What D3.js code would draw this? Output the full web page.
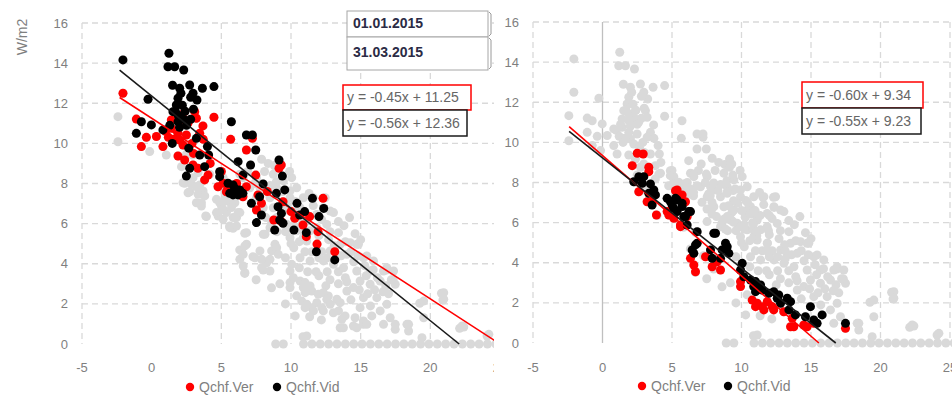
<!DOCTYPE html>
<html><head><meta charset="utf-8">
<script src="https://cdn.jsdelivr.net/npm/d3@7"></script>
<style>
body{margin:0;background:#fff}
svg{display:block}
text{font-family:"Liberation Sans",Arial,sans-serif}
</style>
</head><body>
<svg id="chart" width="952" height="395"></svg>
<script>
// ---------- data ----------
const xTicks = [-5, 0, 5, 10, 15, 20, 25];
const yTicks = [0, 2, 4, 6, 8, 10, 12, 14, 16];
const seriesNames = ["Qchf.Ver", "Qchf.Vid"];
const dateLabels = ["01.01.2015", "31.03.2015"];
const yTitle = "W/m2";

// left panel (01.01 - 31.03)
const leftVer = [[-2.06,12.5],[-1.1,11.21],[-0.38,10.3],[-0.74,9.84],[0.34,10.34],[0.81,9.84],[1.41,11.17],[2.37,11.58],[3.09,11.58],[3.21,11.25],[4.47,11.3],[3.68,10.87],[1.41,10.75],[1.89,10.5],[2.49,10.42],[2.01,10.17],[2.25,9.92],[3.45,10.5],[5.67,10.2],[7.23,10.25],[6.8,9.67],[1.89,9.37],[2.37,9.17],[3.32,8.76],[2.97,8.92],[4.05,8.42],[3.8,8.18],[5.12,8.01],[4.76,7.84],[5.36,7.59],[7.47,8.42],[9.3,8.92],[9.14,8.76],[6.8,7.84],[7.63,7.43],[12.3,7.26],[6.55,7.34],[5.48,7.76],[7.88,7.01],[7.52,6.68],[8.76,6.18],[9.31,6.1],[10.27,6.27],[10.86,5.93],[11.34,6.35],[11.1,5.35],[11.94,5.6],[11.87,4.98],[13.14,4.6],[9.43,7.09],[1.0,10.6],[2.6,11.0],[3.7,10.2],[4.2,9.0],[5.0,8.6],[6.1,8.0],[8.3,7.6],[10.0,6.6],[3.0,9.5],[1.6,10.2],[2.9,10.0],[2.2,11.2],[1.2,10.3]];
const leftVid = [[-2.06,14.16],[1.24,14.49],[1.17,13.82],[1.65,13.82],[2.3,13.66],[2.01,12.75],[2.73,12.91],[3.64,12.75],[4.47,12.83],[2.97,12.5],[3.25,12.16],[-0.26,12.2],[1.89,12.25],[1.77,11.91],[1.53,11.58],[2.13,11.33],[2.37,11.17],[1.89,11.08],[5.72,11.08],[-0.74,11.08],[-0.02,10.92],[0.81,10.67],[-1.1,10.5],[3.21,10.25],[6.8,10.42],[7.23,10.42],[7.47,9.67],[1.48,10.0],[2.66,9.76],[4.0,9.84],[4.09,9.42],[3.45,9.42],[2.73,8.76],[2.49,8.37],[3.8,8.84],[4.88,8.59],[4.88,8.34],[6.2,9.09],[7.1,8.92],[6.55,8.42],[9.14,9.17],[9.38,8.37],[8.0,7.98],[9.55,7.68],[8.95,7.51],[5.48,8.01],[5.96,7.76],[6.2,7.43],[5.6,7.51],[11.54,7.26],[5.84,7.93],[6.32,7.68],[5.84,7.43],[6.55,7.51],[9.07,6.84],[9.31,6.51],[9.19,6.18],[9.43,6.02],[7.75,7.34],[7.16,7.01],[7.88,6.43],[7.52,6.05],[8.83,5.68],[10.43,7.01],[10.98,6.6],[10.62,6.43],[12.35,6.76],[12.01,6.35],[10.21,5.68],[11.1,5.55],[11.82,4.6],[13.14,4.19],[1.7,11.6],[2.2,11.9],[2.5,10.9],[1.3,10.9],[3.0,11.7],[2.8,12.3],[1.5,12.9],[2.1,12.5],[1.9,11.4],[2.4,11.6],[2.0,10.8],[2.8,11.2]];

// right panel
const rightVer = [[2.5,9.46],[2.93,9.42],[2.14,8.84],[3.33,8.76],[2.61,7.54],[3.57,7.04],[3.88,6.38],[5.25,7.59],[5.97,7.04],[4.77,6.38],[5.13,6.22],[5.61,5.88],[6.09,6.3],[3.33,8.54],[3.21,7.04],[4.65,6.55],[5.37,7.63],[5.85,7.04],[5.73,7.38],[5.61,5.8],[6.33,4.22],[6.69,3.55],[6.57,3.89],[7.41,4.3],[7.89,3.8],[8.49,3.64],[8.25,4.05],[9.93,2.81],[9.93,3.06],[10.77,2.14],[11.13,1.98],[11.49,1.81],[11.85,2.06],[12.21,1.81],[11.01,1.81],[11.61,1.65],[12.32,1.65],[13.04,1.56],[13.65,1.23],[13.76,0.81],[14.48,0.9],[15.2,0.98],[17.48,0.73],[13.53,0.81],[14.72,0.81]];
const rightVid = [[2.61,8.29],[2.25,8.04],[2.86,7.96],[3.45,7.93],[3.69,7.63],[3.33,7.46],[3.81,7.38],[3.57,6.88],[4.65,7.21],[5.25,7.21],[5.01,6.88],[5.73,6.96],[6.33,6.55],[5.37,6.55],[5.85,6.3],[6.81,5.55],[8.01,5.47],[6.81,4.97],[8.85,4.97],[2.97,8.29],[4.89,7.04],[5.37,7.13],[5.13,6.71],[5.73,6.8],[6.21,6.55],[5.97,6.3],[6.09,5.88],[8.13,5.47],[6.45,4.64],[6.69,4.89],[6.57,4.47],[7.77,4.64],[7.89,4.22],[8.49,4.22],[8.61,4.64],[8.97,4.8],[9.09,4.47],[10.05,3.97],[9.93,3.64],[10.17,3.3],[10.65,3.14],[11.01,3.06],[10.88,2.81],[11.37,2.89],[11.01,2.56],[11.49,2.64],[11.96,2.48],[12.32,2.56],[12.68,2.39],[12.57,2.23],[12.81,1.98],[13.29,2.23],[13.53,2.06],[13.41,1.65],[13.88,1.4],[14.96,1.81],[14.6,1.31],[15.2,1.15],[15.8,1.4],[15.44,0.98],[17.48,0.98]];

// rest of the year (grey background, shown together with all coloured points)
const yearOther = [[-2.42,11.33],[-2.42,10.08],[-0.14,9.59],[1.05,9.42],[2.37,8.01],[3.21,7.84],[2.73,7.59],[3.45,7.51],[8.36,9.0],[8.95,8.09],[3.93,6.35],[5.6,5.85],[6.68,5.52],[6.32,4.69],[7.27,4.35],[8.23,4.1],[6.68,3.52],[8.0,3.69],[5.84,5.77],[11.34,1.36],[12.18,1.2],[16.85,3.69],[17.33,3.19],[20.8,2.53],[20.9,2.19],[19.24,2.03],[22.1,0.78],[10.86,0.36],
[7.89,9.21],[10.05,8.29],[10.41,7.79],[10.88,7.29],[9.93,7.29],[10.65,6.79],[11.13,6.3],[8.97,7.79],[8.49,7.29],[8.01,6.79],[7.53,7.29],[7.05,7.79],[6.57,8.29],[7.77,7.79],[9.45,6.63],[8.97,6.3],[9.69,5.97],[10.41,5.64],[9.93,5.3],[10.88,5.3],[11.37,5.64],[8.49,5.8],
[4.17,8.46],[5.13,8.29],[6.33,8.46],[7.53,8.29],[8.73,8.46],[9.45,8.13],[8.01,7.63],[8.97,7.46],[9.93,7.63],[6.33,7.63],[11.61,7.29],[12.45,7.29],[12.33,6.79],[13.05,6.55],[11.85,6.46],[11.13,6.13],[10.41,6.63],[9.69,6.96],[8.73,6.79],[9.21,6.13],[9.93,5.8],[10.89,5.63],[11.85,5.8],[12.57,5.96],[13.41,5.55],[13.53,4.97],[14.25,5.05],[14.72,4.97],[14.01,4.47],[12.81,4.64],[11.85,4.97],[11.13,5.13],[10.65,4.3],[11.37,4.14],[12.33,4.14],[13.05,3.97],[13.77,3.8],[14.72,3.64],[15.2,4.3],[15.92,4.14],[15.68,3.64],[16.64,3.64],[16.4,3.14],[15.68,2.98],[14.96,3.14],[14.48,2.81],[14.01,2.64],[15.2,2.31],[16.16,2.31],[16.88,1.98],[16.4,1.65],[17.12,1.31],[16.64,0.98],[18.44,0.98],[18.44,0.65],[19.52,2.14],[19.52,1.31],[20.96,2.56],[20.96,2.23],[22.4,0.85],[24.07,0.4],[11.13,0.4],
[12.81,6.63],[14.84,4.97],[15.44,4.39],[16.88,3.8],[17.36,3.64],[17.48,2.98],[18.32,0.98],[19.4,0.31],[22.28,0.9],[24.2,0.48],
[12.0,3.4],[12.8,3.2],[13.4,3.0],[12.5,2.9],[13.9,3.3],[14.5,4.1],[13.3,4.4],[12.0,5.4],[10.2,4.8],[9.6,4.3],[10.0,5.0],[12.7,5.2],[14.3,2.2],[15.7,1.9],[16.0,2.7],[17.0,2.5],[10.4,2.4],[9.6,2.0],[10.3,1.4],[9.2,3.0],[8.6,2.8],[7.5,3.2],[13.8,5.9],[14.2,6.3],
[8.2,6.3],[8.6,6.0],[9.0,5.6],[9.6,5.6],[10.2,5.9],[10.6,5.1],[11.5,4.6],[11.0,4.6],[12.2,4.6],[12.6,4.3],[13.1,4.9],[13.6,4.4],[14.3,4.6],[14.8,4.4],[15.3,3.9],[15.9,3.7],[16.2,3.3],[15.4,3.4],[14.9,2.7],[15.5,2.5],[16.8,2.9],[17.2,3.2],[16.6,2.6],[14.0,3.1],[13.4,3.6],[12.6,3.6],[11.8,3.6],[11.2,3.6],[10.6,3.8],[12.0,4.3],[14.6,5.5],[15.0,5.2],[13.9,5.1],[12.2,6.2],[11.6,6.9],[10.8,6.0],[10.3,7.1],[11.3,7.5],[12.8,5.6],[13.4,6.1],[9.4,7.6],[8.5,7.9],[7.4,8.0],[6.9,8.6],[8.1,8.6],[8.8,8.9],[9.9,8.6],
[8.9,0],[9.45,0],[10.9,0],[11.5,0],[12.1,0],[12.7,0],[13.3,0],[13.9,0],[14.5,0],[15.1,0],[15.7,0],[16.3,0],[16.9,0],[17.5,0],[18.1,0],[18.7,0],[19.3,0],[19.9,0],[20.5,0],[21.1,0],[21.7,0],[22.3,0],[22.9,0],[23.5,0],[24.1,0],[24.7,0],[25.3,0]];

// linear trend lines [slope, intercept] and start x
const leftVerFit = [-0.45, 11.25];
const leftVidFit = [-0.56, 12.36];
const rightVerFit = [-0.60, 9.34];
const rightVidFit = [-0.55, 9.23];
const leftFitStart = -2.3;
const rightFitStart = -2.4;

// ---------- drawing ----------
const svg = d3.select("#chart");
const RED = "#ff0000", BLACK = "#000000", GREY = "#d9d9d9", GRID = "#d9d9d9", LABEL = "#7f7f7f";
const allGrey = yearOther.concat(leftVer, leftVid, rightVer, rightVid);

svg.append("defs").append("clipPath").attr("id", "leftClip")
  .append("rect").attr("x", 0).attr("y", 0).attr("width", 494).attr("height", 395);

function fmtEq(f) {
  const s = f[0] < 0 ? "-" + Math.abs(f[0]).toFixed(2) : f[0].toFixed(2);
  return "y = " + s + "x + " + f[1].toFixed(2);
}

function panel(g, cfg) {
  const x = d3.scaleLinear().domain([-5, 25]).range(cfg.xr);
  const y = d3.scaleLinear().domain([0, 16]).range(cfg.yr);

  // grid
  g.append("g").selectAll("line").data(yTicks.filter(t => t !== 0)).join("line")
    .attr("x1", x(-5)).attr("x2", x(25)).attr("y1", d => y(d)).attr("y2", d => y(d))
    .attr("stroke", GRID).attr("stroke-width", 1.3).attr("stroke-dasharray", "6,4");
  g.append("g").selectAll("line").data(xTicks.filter(t => t !== 0)).join("line")
    .attr("x1", d => x(d)).attr("x2", d => x(d)).attr("y1", y(16)).attr("y2", y(0))
    .attr("stroke", GRID).attr("stroke-width", 1.3).attr("stroke-dasharray", "6,4");
  if (cfg.zeroAxis) {
    g.append("line").attr("x1", x(0)).attr("x2", x(0)).attr("y1", y(16)).attr("y2", y(0))
      .attr("stroke", "#bfbfbf").attr("stroke-width", 1.3);
  }

  // tick labels
  g.append("g").selectAll("text").data(yTicks).join("text")
    .attr("x", x(-5) - 14).attr("y", d => y(d)).attr("dy", "0.35em")
    .attr("text-anchor", "end").attr("font-size", 13).attr("fill", LABEL).text(d => d);
  g.append("g").selectAll("text").data(xTicks).join("text")
    .attr("x", d => x(d)).attr("y", cfg.xLabelY).attr("dy", "0.35em")
    .attr("text-anchor", "middle").attr("font-size", 13).attr("fill", LABEL).text(d => d);

  // points
  const R = 4.5;
  g.append("g").selectAll("circle").data(allGrey).join("circle")
    .attr("cx", d => x(d[0])).attr("cy", d => y(d[1])).attr("r", R).attr("fill", GREY);
  g.append("g").selectAll("circle").data(cfg.ver).join("circle")
    .attr("cx", d => x(d[0])).attr("cy", d => y(d[1])).attr("r", R).attr("fill", RED);
  g.append("g").selectAll("circle").data(cfg.vid).join("circle")
    .attr("cx", d => x(d[0])).attr("cy", d => y(d[1])).attr("r", R).attr("fill", BLACK);

  // trend lines (until y = 0 or x = 25)
  [[cfg.verFit, RED], [cfg.vidFit, "#1a1a1a"]].forEach(([f, c]) => {
    const xEnd = Math.min(25, -f[1] / f[0]);
    g.append("line")
      .attr("x1", x(cfg.fitStart)).attr("y1", y(f[0] * cfg.fitStart + f[1]))
      .attr("x2", x(xEnd)).attr("y2", y(f[0] * xEnd + f[1]))
      .attr("stroke", c).attr("stroke-width", 1.6);
  });

  // equation boxes
  const eqs = [[cfg.verFit, RED, cfg.eq[0]], [cfg.vidFit, "#1a1a1a", cfg.eq[1]]];
  eqs.forEach(([f, c, b]) => {
    g.append("rect").attr("x", b[0]).attr("y", b[1]).attr("width", b[2]).attr("height", b[3])
      .attr("fill", "#fff").attr("stroke", c).attr("stroke-width", 1.5);
    g.append("text").attr("x", b[0] + 4).attr("y", b[1] + b[3] / 2).attr("dy", "0.35em")
      .attr("font-size", 14).attr("fill", "#666").text(fmtEq(f));
  });

  // legend
  seriesNames.forEach((n, i) => {
    const lx = cfg.legend[i];
    g.append("circle").attr("cx", lx).attr("cy", cfg.legendY).attr("r", 4.2).attr("fill", i === 0 ? RED : BLACK);
    g.append("text").attr("x", lx + 9).attr("y", cfg.legendY).attr("dy", "0.35em")
      .attr("font-size", 14).attr("fill", LABEL).text(n);
  });
}

const left = svg.append("g").attr("clip-path", "url(#leftClip)");
panel(left, {
  xr: [82, 500], yr: [344, 23], xLabelY: 367, zeroAxis: false,
  ver: leftVer, vid: leftVid, verFit: leftVerFit, vidFit: leftVidFit, fitStart: leftFitStart,
  eq: [[343, 85, 128, 25], [343, 110, 124, 26]],
  legend: [190, 277], legendY: 387
});

// y title
svg.append("text").attr("transform", "translate(27,37) rotate(-90)")
  .attr("text-anchor", "middle").attr("font-size", 14).attr("fill", LABEL).text(yTitle);

// date boxes
const dateBoxes = [[347, 11, 141, 26], [347, 37, 141, 33]];
dateLabels.forEach((t, i) => {
  const b = dateBoxes[i];
  svg.append("rect").attr("x", b[0]).attr("y", b[1]).attr("width", b[2]).attr("height", b[3])
    .attr("fill", "#fff").attr("stroke", "#a6a6a6").attr("stroke-width", 1);
  svg.append("text").attr("x", b[0] + 6).attr("y", b[1] + b[3] / 2 - 1).attr("dy", "0.35em")
    .attr("font-size", 14).attr("font-weight", "bold").attr("fill", "#2b2b45").text(t);
  svg.append("path")
    .attr("d", `M${b[0]+b[2]+1},${b[1]+1} L${b[0]+b[2]+3},${b[1]+3} L${b[0]+b[2]+3},${b[1]+b[3]-3} L${b[0]+b[2]+1},${b[1]+b[3]-1}`)
    .attr("fill", "none").attr("stroke", "#9a9a9a").attr("stroke-width", 1);
});

const right = svg.append("g");
panel(right, {
  xr: [533, 950], yr: [343, 22], xLabelY: 367, zeroAxis: true,
  ver: rightVer, vid: rightVid, verFit: rightVerFit, vidFit: rightVidFit, fitStart: rightFitStart,
  eq: [[802, 82, 121, 26], [802, 108, 119, 26]],
  legend: [642, 728], legendY: 386
});
</script>
</body></html>
